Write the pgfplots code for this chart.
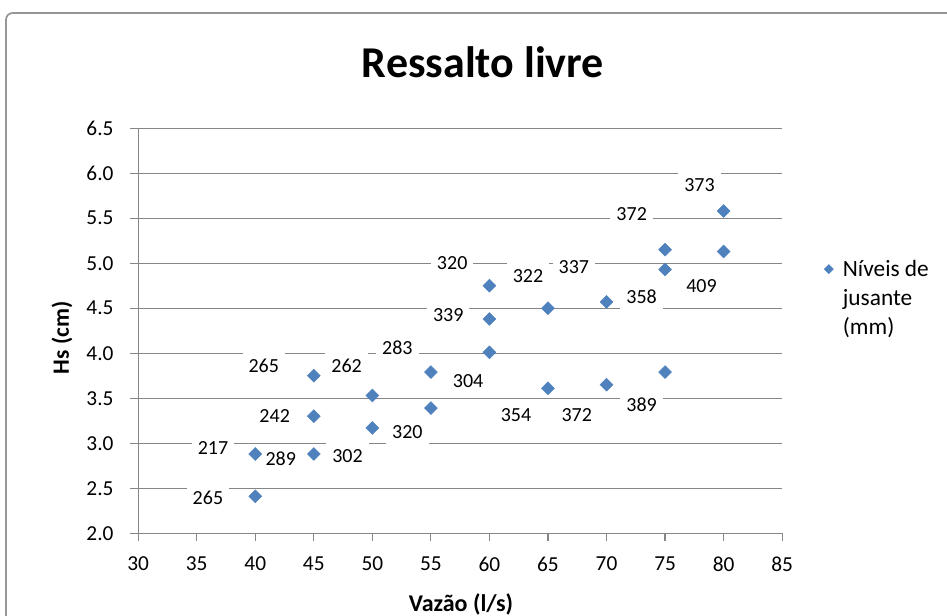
\documentclass[border=0pt]{standalone}
\usepackage{fontspec}
\setmainfont{Carlito}
\usepackage{pgfplots}
\pgfplotsset{compat=1.18}

\definecolor{markblue}{RGB}{79,129,189}
\definecolor{gridgray}{RGB}{134,134,134}
\definecolor{framegray}{RGB}{150,150,150}

\tikzset{lbl/.style={fill=white, inner xsep=4.5pt, inner ysep=5.5pt,
    text height=9.5pt, text depth=0pt, font=\fontsize{15}{18}\selectfont}}

\begin{document}
\begin{tikzpicture}[x=0.75pt,y=0.75pt]
\useasboundingbox (0,0) rectangle (947,616);
\clip (0,0) rectangle (947,616);
% chart frame
\draw[framegray, line width=1.3pt, rounded corners=5pt] (6,603) rectangle (1000,-40);
% titles
\node[font=\fontsize{33}{40}\selectfont\bfseries] at (483,554) {Ressalto livre};
\node[font=\fontsize{18}{22}\selectfont\bfseries] at (461,12) {Vazão (l/s)};
\node[font=\fontsize{17.5}{21}\selectfont\bfseries, rotate=90] at (62,278) {Hs (cm)};

\begin{axis}[
  at={(118,92)}, anchor=south west, scale only axis,
  width=483pt, height=303.75pt,
  xmin=30, xmax=85, ymin=2, ymax=6.5,
  xtick={30,35,40,45,50,55,60,65,70,75,80,85},
  ytick={2,2.5,3,3.5,4,4.5,5,5.5,6,6.5},
  axis x line*=bottom, axis y line*=left,
  ymajorgrids,
  grid style={gridgray, line width=0.9pt},
  axis line style={gridgray, line width=0.9pt},
  tick style={gridgray, line width=0.9pt},
  tick align=outside, major tick length=6pt,
  /pgf/number format/assume math mode=true,
  yticklabel style={xshift=-9pt, /pgf/number format/.cd, fixed, fixed zerofill, precision=1},
  xticklabel style={yshift=-8.25pt},
  ticklabel style={font=\fontsize{16}{19}\selectfont},
  legend style={at={(1.091,0.62)}, anchor=west, draw=none, fill=none,
    inner sep=0pt, font=\fontsize{17.5}{21.75}\selectfont,
    nodes={inner sep=1pt}, cells={anchor=west}},
  legend image code/.code={
    \path (0pt,0pt);
    \fill[markblue, overlay] (-12.75pt,9.75pt) -- ++(3.4pt,3.4pt) -- ++(3.4pt,-3.4pt)
      -- ++(-3.4pt,-3.4pt) -- cycle;},
]
\addplot[only marks, color=markblue, mark=square*, mark size=3.4pt,
  mark options={rotate=45, fill=markblue, draw=markblue}] coordinates {
  (40,2.41) (40,2.88)
  (45,3.75) (45,3.30) (45,2.88)
  (50,3.53) (50,3.17)
  (55,3.79) (55,3.39)
  (60,4.75) (60,4.38) (60,4.01)
  (65,4.50) (65,3.61)
  (70,4.57) (70,3.65)
  (75,5.15) (75,4.93) (75,3.79)
  (80,5.58) (80,5.13)
};
\addlegendentry{\begin{tabular}{@{}l@{}}Níveis de\\jusante\\(mm)\end{tabular}}

% water-level labels (mm)
\node[lbl] at (axis cs:40.73,3.856) {265};
\node[lbl] at (axis cs:47.80,3.856) {262};
\node[lbl] at (axis cs:52.14,4.056) {283};
\node[lbl] at (axis cs:41.66,3.30) {242};
\node[lbl] at (axis cs:52.99,3.12) {320};
\node[lbl] at (axis cs:36.39,2.944) {217};
\node[lbl] at (axis cs:42.18,2.82) {289};
\node[lbl] at (axis cs:47.88,2.856) {302};
\node[lbl] at (axis cs:35.96,2.39) {265};
\node[lbl] at (axis cs:56.82,5.0) {320};
\node[lbl] at (axis cs:63.29,4.856) {322};
\node[lbl] at (axis cs:67.21,4.956) {337};
\node[lbl] at (axis cs:56.48,4.42) {339};
\node[lbl] at (axis cs:58.18,3.69) {304};
\node[lbl] at (axis cs:62.27,3.31) {354};
\node[lbl] at (axis cs:67.46,3.31) {372};
\node[lbl] at (axis cs:77.94,5.867) {373};
\node[lbl] at (axis cs:72.15,5.544) {372};
\node[lbl] at (axis cs:78.11,4.744) {409};
\node[lbl] at (axis cs:73.0,4.622) {358};
\node[lbl] at (axis cs:73.0,3.422) {389};
\end{axis}
\end{tikzpicture}
\end{document}
